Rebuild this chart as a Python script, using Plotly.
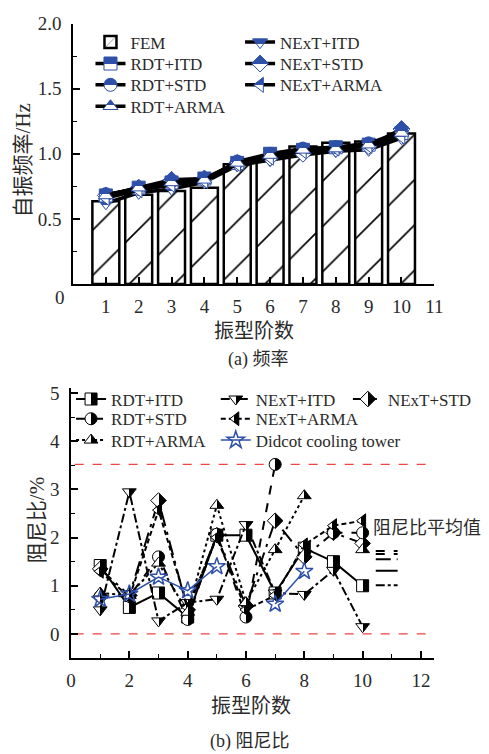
import plotly.graph_objects as go

W, H = 489, 754
FONT = "Liberation Serif, Noto Sans CJK SC, serif"
BLUE = "#2f50a8"
TXT = "#2a2a2a"

# ---------------- data: (a) frequency ----------------
modes = [1, 2, 3, 4, 5, 6, 7, 8, 9, 10]
fem = [0.635, 0.685, 0.715, 0.74, 0.92, 0.97, 1.055, 1.085, 1.095, 1.155]
f_rdt_itd = [0.68, 0.74, 0.78, 0.81, 0.93, 1.00, 1.03, 1.05, 1.07, 1.16]
f_rdt_std = [0.69, 0.73, 0.79, 0.80, 0.94, 1.00, 1.04, 1.05, 1.08, 1.17]
f_rdt_arma = [0.68, 0.74, 0.78, 0.80, 0.93, 0.99, 1.03, 1.04, 1.07, 1.16]
f_next_itd = [0.62, 0.70, 0.73, 0.78, 0.91, 0.95, 0.99, 1.02, 1.03, 1.12]
f_next_std = [0.68, 0.74, 0.80, 0.81, 0.93, 0.97, 1.00, 1.04, 1.06, 1.19]
f_next_arma = [0.66, 0.72, 0.76, 0.79, 0.92, 0.97, 1.02, 1.04, 1.06, 1.13]

# ---------------- data: (b) damping ratio ----------------
d_rdt_itd = [1.42, 0.55, 0.85, 0.35, 2.05, 2.05, 0.85, 1.78, 1.50, 1.00]
d_next_itd = [0.50, 2.95, 0.27, 0.65, 0.72, 2.27, 0.85, 0.82, 1.32, 0.15]
d_next_std = [1.35, 0.80, 2.77, 0.50, 2.05, 0.58, 2.35, 1.60, 2.10, 1.88]
d_rdt_std = [0.78, 0.78, 1.60, 0.30, 2.07, 0.35, 3.52, None, 2.10, 2.10]
d_next_arma = [1.30, 0.76, 2.57, 0.55, 2.00, 0.50, 0.80, 1.85, 2.25, 2.35]
d_rdt_arma = [0.85, 0.80, 1.47, 0.45, 2.67, 0.65, 1.75, 2.87, None, 1.75]
didcot_x = [1, 2, 3, 4, 5, 6, 7, 8]
didcot = [0.72, 0.83, 1.18, 0.90, 1.40, None, 0.62, 1.30]
ref_lines = [3.52, 0.0]
mean_x = [10.45, 11.2]
mean_vals = [1.72, 1.66, 1.55, 1.31, 1.01]
mean_dash = ["dash", "dash", "longdashdot", "solid", "dashdot"]

fig = go.Figure()

def px_x(p):
    return p / W

def px_y(p):
    return 1 - p / H

legends = {}
leg_count = [0]

def new_legend(xpx, ypx):
    leg_count[0] += 1
    n = leg_count[0]
    key = "legend" if n == 1 else "legend%d" % n
    legends[key] = dict(x=px_x(xpx), y=px_y(ypx - 7), xanchor="left", yanchor="middle",
                        bgcolor="rgba(0,0,0,0)", borderwidth=0,
                        font=dict(family=FONT, size=17, color=TXT),
                        itemwidth=30)
    return key

# legend slots (pixel positions)
top_cols = [88, 242]
top_rows = [40, 61.7, 83.3, 105]
bot_cols = [68, 217, 353]
bot_rows = [401.7, 421.7, 443.3]

# FEM bars
fig.add_trace(go.Bar(
    x=modes, y=fem, name="FEM", width=0.82,
    marker=dict(color="white", line=dict(color="black", width=2.5),
                pattern=dict(shape="/", fgcolor="black", fgopacity=1, bgcolor="white",
                             size=32, solidity=0.05)),
    xaxis="x", yaxis="y", legend=new_legend(top_cols[0], top_rows[0])))

top_series = [
    ("NExT+ITD", f_next_itd, "triangle-down", (1, 0)),
    ("RDT+ITD", f_rdt_itd, "square", (0, 1)),
    ("NExT+STD", f_next_std, "diamond", (1, 1)),
    ("RDT+STD", f_rdt_std, "circle", (0, 2)),
    ("NExT+ARMA", f_next_arma, "triangle-left", (1, 2)),
    ("RDT+ARMA", f_rdt_arma, "triangle-up", (0, 3)),
]
for name, vals, sym, (c, r) in top_series:
    fig.add_trace(go.Scatter(
        x=modes, y=vals, name=name, mode="lines+markers",
        line=dict(color="black", width=3.5),
        marker=dict(symbol=sym, size=13, color=BLUE, line=dict(color=BLUE, width=1),
                    gradient=dict(type="vertical", color="white")),
        xaxis="x", yaxis="y", legend=new_legend(top_cols[c], top_rows[r])))

bot_series = [
    ("RDT+ITD", modes, d_rdt_itd, "square", "solid", (0, 0)),
    ("NExT+ITD", modes, d_next_itd, "triangle-down", "dashdot", (1, 0)),
    ("NExT+STD", modes, d_next_std, "diamond", "longdashdot", (2, 0)),
    ("RDT+STD", modes, d_rdt_std, "circle", "dash", (0, 1)),
    ("NExT+ARMA", modes, d_next_arma, "triangle-left", "5px,3px", (1, 1)),
    ("RDT+ARMA", modes, d_rdt_arma, "triangle-up", "dot", (0, 2)),
]
for name, xs, vals, sym, dash, (c, r) in bot_series:
    fig.add_trace(go.Scatter(
        x=xs, y=vals, name=name, mode="lines+markers",
        line=dict(color="black", width=2, dash=dash),
        marker=dict(symbol=sym, size=12, color="white", line=dict(color="black", width=1),
                    gradient=dict(type="horizontal", color="black")),
        xaxis="x2", yaxis="y2", legend=new_legend(bot_cols[c], bot_rows[r])))

fig.add_trace(go.Scatter(
    x=didcot_x, y=didcot, name="Didcot cooling tower", mode="lines+markers",
    line=dict(color=BLUE, width=1.5),
    marker=dict(symbol="star-open", size=13, color=BLUE, line=dict(color=BLUE, width=1.5)),
    xaxis="x2", yaxis="y2", legend=new_legend(bot_cols[1], bot_rows[2])))

for yv, dash in zip(mean_vals, mean_dash):
    fig.add_trace(go.Scatter(
        x=mean_x, y=[yv, yv], mode="lines", showlegend=False, cliponaxis=False,
        line=dict(color="black", width=2, dash=dash), xaxis="x2", yaxis="y2", hoverinfo="skip"))

shapes = []
for yv in ref_lines:
    shapes.append(dict(type="line", xref="x2 domain", yref="y2", x0=0.01, x1=0.987, y0=yv, y1=yv,
                       layer="below", line=dict(color="#ee4444", width=1.2, dash="dash")))

axis_common = dict(showline=True, linecolor="black", linewidth=1.5, ticks="inside",
                   tickcolor="black", tickwidth=1.5, ticklen=7, showgrid=False, zeroline=False,
                   tickfont=dict(family=FONT, size=19, color=TXT), mirror=False)

fig.update_layout(
    width=W, height=H, margin=dict(l=0, r=0, t=0, b=0),
    paper_bgcolor="white", plot_bgcolor="white",
    showlegend=True, barmode="overlay",
    xaxis=dict(domain=[px_x(70), px_x(442)], range=[0, 11], anchor="y",
               tickvals=list(range(1, 12)), ticklabelstandoff=4, **axis_common),
    yaxis=dict(domain=[px_y(277.7), px_y(13.7)], range=[0, 2.0], anchor="x",
               tickvals=[0.5, 1.0, 1.5, 2.0], ticktext=["0.5", "1.0", "1.5", "2.0"],
               ticklabelstandoff=6,
               minor=dict(tickvals=[0.25, 0.75, 1.25, 1.75], ticklen=4, ticks="inside",
                          tickcolor="black", tickwidth=1.2), **axis_common),
    xaxis2=dict(domain=[px_x(68), px_x(441.7)], range=[0, 12.45], anchor="y2",
                tickvals=[0, 2, 4, 6, 8, 10, 12], ticklabelstandoff=4,
                minor=dict(tickvals=[1, 3, 5, 7, 9, 11], ticklen=4, ticks="inside",
                           tickcolor="black", tickwidth=1.2), **axis_common),
    yaxis2=dict(domain=[px_y(656.7), px_y(383.4)], range=[-0.5, 5.1], anchor="x2",
                tickvals=[0, 1, 2, 3, 4, 5], ticklabelstandoff=6,
                minor=dict(tickvals=[-0.5, 0.5, 1.5, 2.5, 3.5, 4.5], ticklen=4, ticks="inside",
                           tickcolor="black", tickwidth=1.2), **axis_common),
    shapes=shapes,
    **legends,
)

ann = [
    dict(text="0", x=px_x(57), y=px_y(291), size=19),
    dict(text="振型阶数", x=px_x(256), y=px_y(325), size=20),
    dict(text="(a) 频率", x=px_x(260), y=px_y(354), size=18),
    dict(text="振型阶数", x=px_x(253), y=px_y(705), size=20),
    dict(text="(b) 阻尼比", x=px_x(252), y=px_y(741), size=18),
]
annotations = []
for a in ann:
    annotations.append(dict(text=a["text"], x=a["x"], y=a["y"], xref="paper", yref="paper",
                            showarrow=False, xanchor="center", yanchor="middle",
                            font=dict(family=FONT, size=a["size"], color=TXT)))
annotations.append(dict(text="自振频率/Hz", x=px_x(19), y=px_y(152), xref="paper", yref="paper",
                        showarrow=False, textangle=-90, xanchor="center", yanchor="middle",
                        font=dict(family=FONT, size=21, color=TXT)))
annotations.append(dict(text="阻尼比/%", x=px_x(33), y=px_y(517), xref="paper", yref="paper",
                        showarrow=False, textangle=-90, xanchor="center", yanchor="middle",
                        font=dict(family=FONT, size=21, color=TXT)))
annotations.append(dict(text="阻尼比平均值", x=px_x(377), y=px_y(525), xref="paper", yref="paper",
                        showarrow=False, xanchor="left", yanchor="middle",
                        font=dict(family=FONT, size=18, color=TXT)))
fig.update_layout(annotations=annotations)

# make the two-colour marker gradients split sharply at the middle (half-filled markers)
post_js = """
var gd = document.querySelector('.plotly-graph-div');
function sharpen(){
  document.querySelectorAll('linearGradient').forEach(function(g){
    if (g.getAttribute('data-sharp')) return;
    var stops = g.querySelectorAll('stop');
    if (stops.length !== 2) return;
    var a = stops[0], b = stops[1];
    var a2 = a.cloneNode(true); a2.setAttribute('offset', '50%');
    var b2 = b.cloneNode(true); b2.setAttribute('offset', '50%');
    g.insertBefore(a2, b); g.insertBefore(b2, b);
    g.setAttribute('data-sharp', '1');
  });
}
sharpen();
if (gd && gd.on) { gd.on('plotly_afterplot', sharpen); }
"""
fig.write_html("out.html", post_script=post_js)
